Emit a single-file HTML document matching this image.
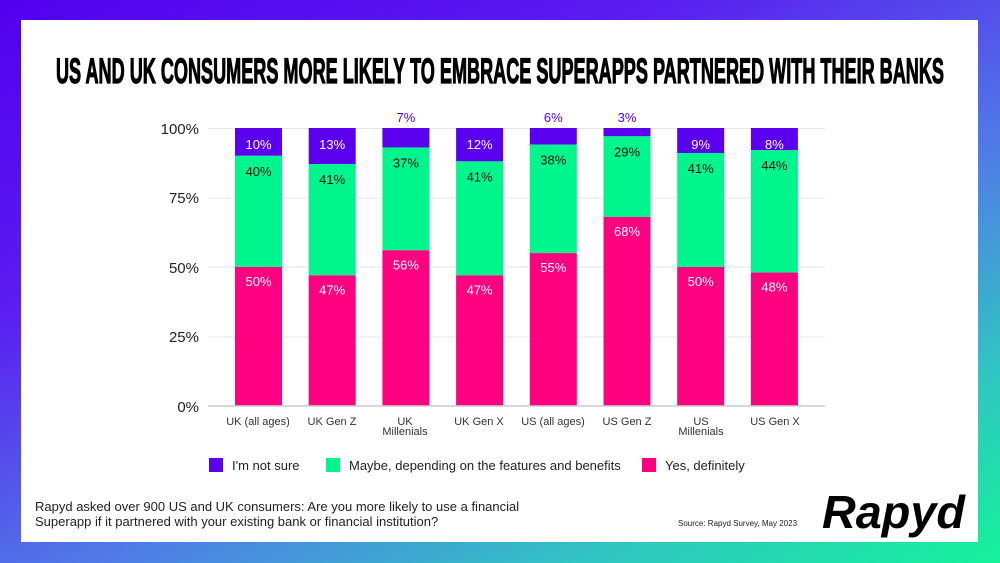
<!DOCTYPE html>
<html><head><meta charset="utf-8"><style>
html,body{margin:0;padding:0}
body{width:1000px;height:563px;overflow:hidden;background:linear-gradient(155deg,#5200ef 0%,#5a1cf0 30%,#4f7ee6 60%,#2fc8c0 82%,#14f29a 100%);font-family:"Liberation Sans",sans-serif}
</style></head><body>
<svg width="1000" height="563" style="position:absolute;left:0;top:0" font-family="Liberation Sans, sans-serif">
<rect x="21" y="20" width="957" height="522" fill="#fff"/>
<text x="56" y="83" font-size="35" font-weight="bold" textLength="888" lengthAdjust="spacingAndGlyphs" fill="#000" stroke="#000" stroke-width="1.2">US AND UK CONSUMERS MORE LIKELY TO EMBRACE SUPERAPPS PARTNERED WITH THEIR BANKS</text>
<g stroke="#e6e6e6" stroke-width="1">
<line x1="208" x2="825" y1="128.5" y2="128.5"/><line x1="208" x2="825" y1="198" y2="198"/><line x1="208" x2="825" y1="267" y2="267"/><line x1="208" x2="825" y1="337" y2="337"/>
</g>
<g font-size="15" fill="#222" text-anchor="end">
<text x="199" y="134">100%</text><text x="199" y="203">75%</text><text x="199" y="273">50%</text><text x="199" y="342">25%</text><text x="199" y="412">0%</text>
</g>
<g id="bars"></g>
<line x1="208" x2="825" y1="406" y2="406" stroke="#ccc" stroke-width="1.5"/>
<g font-size="11" fill="#333" text-anchor="middle">
<text x="258" y="425">UK (all ages)</text><text x="332" y="425">UK Gen Z</text><text x="405" y="425">UK</text><text x="405" y="435">Millenials</text>
<text x="479" y="425">UK Gen X</text><text x="553" y="425">US (all ages)</text><text x="627" y="425">US Gen Z</text>
<text x="701" y="425">US</text><text x="701" y="435">Millenials</text><text x="775" y="425">US Gen X</text>
</g>
<rect x="209" y="458" width="14" height="14" fill="#5a00ee"/><text x="232" y="470" font-size="13" fill="#222">I'm not sure</text>
<rect x="326" y="458" width="14" height="14" fill="#00f58c"/><text x="349" y="470" font-size="13" fill="#222">Maybe, depending on the features and benefits</text>
<rect x="642" y="458" width="14" height="14" fill="#ff0080"/><text x="665" y="470" font-size="13" fill="#222">Yes, definitely</text>
<text x="35" y="511" font-size="13" fill="#222">Rapyd asked over 900 US and UK consumers: Are you more likely to use a financial</text>
<text x="35" y="526" font-size="13" fill="#222">Superapp if it partnered with your existing bank or financial institution?</text>
<text x="678" y="526" font-size="8" fill="#222">Source: Rapyd Survey, May 2023</text>
<text x="822" y="528" font-size="46" font-weight="bold" font-style="italic" fill="#000" textLength="143" lengthAdjust="spacingAndGlyphs">Rapyd</text>
</svg>
<script>
var d=[[50,40,10],[47,41,13],[56,37,7],[47,41,12],[55,38,6],[68,29,3],[50,41,9],[48,44,8]];
var g=document.getElementById('bars'),s='',k=2.78;
d.forEach(function(v,i){
 var x=235+i*73.7,w=47,c=x+w/2;
 var py=406-v[0]*k,uy=128+v[2]*k;
 s+='<rect x="'+x+'" y="128" width="'+w+'" height="'+(v[2]*k)+'" fill="#5a00ee"/>';
 s+='<rect x="'+x+'" y="'+uy+'" width="'+w+'" height="'+(py-uy)+'" fill="#00f58c"/>';
 s+='<rect x="'+x+'" y="'+py+'" width="'+w+'" height="'+(v[0]*k)+'" fill="#ff0080"/>';
 s+='<text x="'+c+'" y="'+(py+19)+'" font-size="13" fill="#fff" text-anchor="middle">'+v[0]+'%</text>';
 s+='<text x="'+c+'" y="'+(uy+20)+'" font-size="13" fill="#111" text-anchor="middle">'+v[1]+'%</text>';
 if(v[2]>=8) s+='<text x="'+c+'" y="149" font-size="13" fill="#fff" text-anchor="middle">'+v[2]+'%</text>';
 else s+='<text x="'+c+'" y="122" font-size="13" fill="#5a00ee" text-anchor="middle">'+v[2]+'%</text>';
});
g.innerHTML=s;
</script>
</body></html>
